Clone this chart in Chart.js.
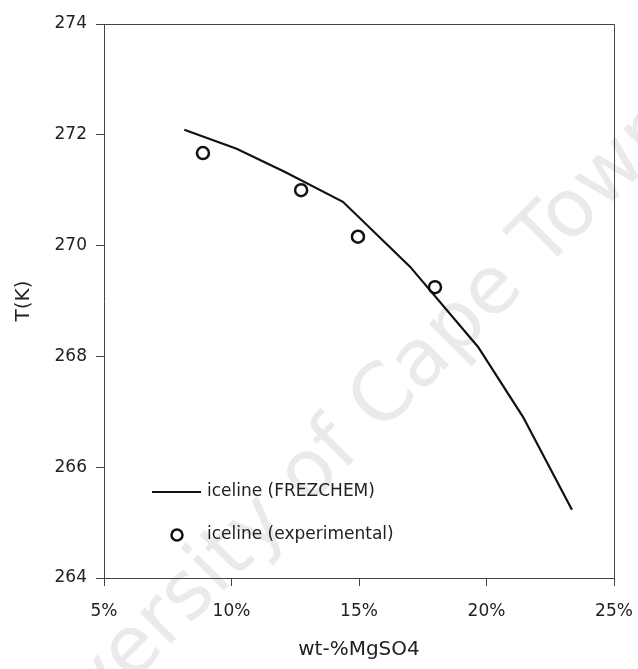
<!DOCTYPE html>
<html>
<head>
<meta charset="utf-8">
<script src="https://cdn.jsdelivr.net/npm/chart.js@4"></script>
<style>
  body { margin: 0; background: #fff; }
  canvas { display: block; }
</style>
</head>
<body>
<canvas id="iceline-chart" width="638" height="669"></canvas>
<script>
// model curve (FREZCHEM) and measured freezing points, wt-% MgSO4 vs T(K)
const frezchemWt = [8.15, 10.2, 12.1, 14.37, 17.0, 19.67, 21.43, 23.35];
const frezchemT = [272.09, 271.75, 271.33, 270.79, 269.62, 268.17, 266.91, 265.23];
const experimentalWt = [8.88, 12.73, 14.96, 17.98];
const experimentalT = [271.67, 271.0, 270.16, 269.25];

const seriesNames = ["iceline (FREZCHEM)", "iceline (experimental)"];
const xTitle = "wt-%MgSO4";
const yTitle = "T(K)";
const watermark = "University of Cape Town";

const font = "'DejaVu Sans', Verdana, sans-serif";
const ink = "#222";

function toPoints(xs, ys) {
  return xs.map((x, i) => ({x: x, y: ys[i]}));
}

// faint diagonal text behind the plot
const watermarkPlugin = {
  id: "watermark",
  beforeDraw(chart) {
    const ctx = chart.ctx;
    ctx.save();
    ctx.translate(330, 455);
    ctx.rotate(-Math.PI / 4);
    ctx.font = "80px " + font;
    ctx.fillStyle = "#eaeaea";
    ctx.textAlign = "center";
    ctx.textBaseline = "middle";
    ctx.fillText(watermark, 0, 0);
    ctx.restore();
  }
};

// top and right edges of the plot box
const framePlugin = {
  id: "frame",
  afterDraw(chart) {
    const {left, right, top, bottom} = chart.chartArea;
    const ctx = chart.ctx;
    ctx.save();
    ctx.strokeStyle = "#444";
    ctx.lineWidth = 1;
    ctx.beginPath();
    ctx.moveTo(left, top + 0.5);
    ctx.lineTo(right + 0.5, top + 0.5);
    ctx.lineTo(right + 0.5, bottom);
    ctx.stroke();
    ctx.restore();
  }
};

// legend sits inside the plot, lower left
const legendPlugin = {
  id: "insideLegend",
  afterDraw(chart) {
    const {left, bottom} = chart.chartArea;
    const ctx = chart.ctx;
    ctx.save();
    ctx.strokeStyle = "#111";
    ctx.lineWidth = 2;
    ctx.beginPath();
    ctx.moveTo(left + 48, bottom - 86);
    ctx.lineTo(left + 97, bottom - 86);
    ctx.stroke();

    ctx.lineWidth = 2.5;
    ctx.beginPath();
    ctx.arc(left + 73, bottom - 43, 5.5, 0, Math.PI * 2);
    ctx.stroke();

    ctx.fillStyle = ink;
    ctx.font = "17px " + font;
    ctx.textBaseline = "middle";
    ctx.fillText(seriesNames[0], left + 103, bottom - 86);
    ctx.fillText(seriesNames[1], left + 103, bottom - 43);
    ctx.restore();
  }
};

const tickGrid = {
  display: true,
  drawOnChartArea: false,
  drawTicks: true,
  tickLength: 8,
  color: "#444"
};

new Chart(document.getElementById("iceline-chart").getContext("2d"), {
  type: "scatter",
  data: {
    datasets: [
      {
        label: seriesNames[0],
        data: toPoints(frezchemWt, frezchemT),
        showLine: true,
        borderColor: "#111",
        borderWidth: 2.2,
        pointRadius: 0,
        tension: 0
      },
      {
        label: seriesNames[1],
        data: toPoints(experimentalWt, experimentalT),
        showLine: false,
        pointRadius: 6,
        pointBorderWidth: 2.5,
        pointBorderColor: "#111",
        pointBackgroundColor: "#fff"
      }
    ]
  },
  options: {
    responsive: false,
    animation: false,
    devicePixelRatio: 1,
    layout: {padding: {top: 24, right: 24, left: 0, bottom: 0}},
    plugins: {
      legend: {display: false},
      tooltip: {enabled: false}
    },
    scales: {
      x: {
        type: "linear",
        min: 5,
        max: 25,
        grid: tickGrid,
        border: {display: true, color: "#444", width: 1},
        ticks: {
          stepSize: 5,
          padding: 15,
          color: ink,
          font: {family: font, size: 17},
          callback: v => v + "%"
        },
        title: {
          display: true,
          text: xTitle,
          color: ink,
          font: {family: font, size: 20},
          padding: {top: 0, bottom: 7}
        },
        afterFit: scale => {
          scale.height = 91;
          scale.paddingLeft = 0;
          scale.paddingRight = 0;
        }
      },
      y: {
        min: 264,
        max: 274,
        grid: tickGrid,
        border: {display: true, color: "#444", width: 1},
        ticks: {
          stepSize: 2,
          padding: 9,
          color: ink,
          font: {family: font, size: 17}
        },
        title: {
          display: true,
          text: yTitle,
          color: ink,
          font: {family: font, size: 20},
          padding: {top: 12, bottom: 0}
        },
        afterFit: scale => {
          scale.width = 104;
          scale.paddingTop = 0;
          scale.paddingBottom = 0;
        }
      }
    }
  },
  plugins: [watermarkPlugin, framePlugin, legendPlugin]
});
</script>
</body>
</html>
